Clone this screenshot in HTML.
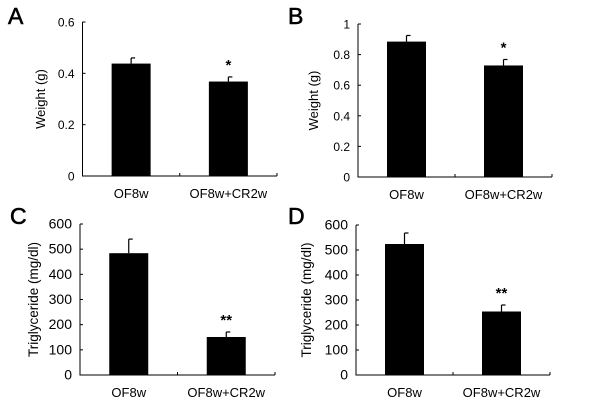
<!DOCTYPE html>
<html><head><meta charset="utf-8"><style>
body{margin:0;background:#fff}
svg{display:block;font-family:"Liberation Sans",Arial,sans-serif}
</style></head><body>
<svg id="fig" width="600" height="410"></svg>
<script>
const categories=["OF8w","OF8w+CR2w"];
const valuesA=[0.438,0.368];
const errorsA=[0.022,0.018];
const valuesB=[0.885,0.729];
const errorsB=[0.04,0.039];
const valuesC=[484,151];
const errorsC=[56,20];
const valuesD=[524,254];
const errorsD=[44,26];
const ticksA=[0,0.2,0.4,0.6];
const ticksB=[0,0.2,0.4,0.6,0.8,1];
const ticksCD=[0,100,200,300,400,500,600];
const sigA=["","*"],sigB=["","*"],sigC=["","**"],sigD=["","**"];
const NS="http://www.w3.org/2000/svg";
const svg=document.getElementById('fig');
function mk(tag,attrs,parent,text){const e=document.createElementNS(NS,tag);for(const k in attrs)e.setAttribute(k,attrs[k]);if(text!==undefined)e.textContent=text;(parent||svg).appendChild(e);return e;}
function panel(p){
  const g=mk('g',{});
  
  
  const y=v=>p.y0-(v/p.max)*(p.y0-p.y1);
  const L=mk('text',{x:p.lx,y:p.ly,'font-size':23,fill:'#000',stroke:'#000','stroke-width':0.6},g,p.letter);
  
  const ax=mk('path',{d:`M${p.ax} ${p.y1}V${p.y0}H${p.xr}M${(p.ax+p.xr)/2} ${p.y0}v-3M${p.xr} ${p.y0}v-3`,stroke:'#000','stroke-width':1,fill:'none'},g);
  
  p.ticks.forEach(t=>{
    mk('line',{x1:p.ax,x2:p.ax+3,y1:y(t),y2:y(t),stroke:'#000'},g);
    const tl=mk('text',{x:p.ax-8,y:y(t)+4.5,'font-size':p.fs,'text-anchor':'end'},g,String(t));
    
  });
  const yt=mk('text',{x:0,y:0,'font-size':p.tfs,'text-anchor':'middle',transform:`translate(${p.tx},${(p.y0+p.y1)/2}) rotate(-90)`},g,p.title);
  
  const w=(p.xr-p.ax)/2;
  categories.forEach((c,i)=>{
    const cx=p.ax+w*(i+0.5);
    const top=y(p.vals[i]),et=y(p.vals[i]+p.errs[i]);
    mk('line',{x1:cx,x2:cx,y1:top,y2:et,stroke:'#000','stroke-width':1.2},g);
    mk('line',{x1:cx,x2:cx+4,y1:et,y2:et,stroke:'#000','stroke-width':1.2},g);
    const b=mk('rect',{x:cx-19.5,y:top,width:39,height:p.y0-top,fill:'#000'},g);
    
    const xl=mk('text',{x:cx,y:p.y0+22,'font-size':13,'text-anchor':'middle'},g,c);
    
    if(p.sig[i]){const s=mk('text',{x:cx,y:et-7,'font-size':15,'text-anchor':'middle','font-weight':'bold'},g,p.sig[i]);
      }
  });
}
panel({letter:'A',lx:8,ly:24,ax:82.5,xr:277,y0:176,y1:22,max:0.6,ticks:ticksA,vals:valuesA,errs:errorsA,sig:sigA,title:'Weight (g)',tx:45,fs:12,tfs:13});
panel({letter:'B',lx:288,ly:24,ax:358,xr:552,y0:177,y1:24,max:1,ticks:ticksB,vals:valuesB,errs:errorsB,sig:sigB,title:'Weight (g)',tx:318,fs:12,tfs:13});
panel({letter:'C',lx:10,ly:224,ax:80,xr:275,y0:375,y1:224,max:600,ticks:ticksCD,vals:valuesC,errs:errorsC,sig:sigC,title:'Triglyceride (mg/dl)',tx:38,fs:14,tfs:13.5});
panel({letter:'D',lx:288,ly:224,ax:356,xr:550,y0:375,y1:225,max:600,ticks:ticksCD,vals:valuesD,errs:errorsD,sig:sigD,title:'Triglyceride (mg/dl)',tx:311,fs:14,tfs:13.5});
</script>
</body></html>
